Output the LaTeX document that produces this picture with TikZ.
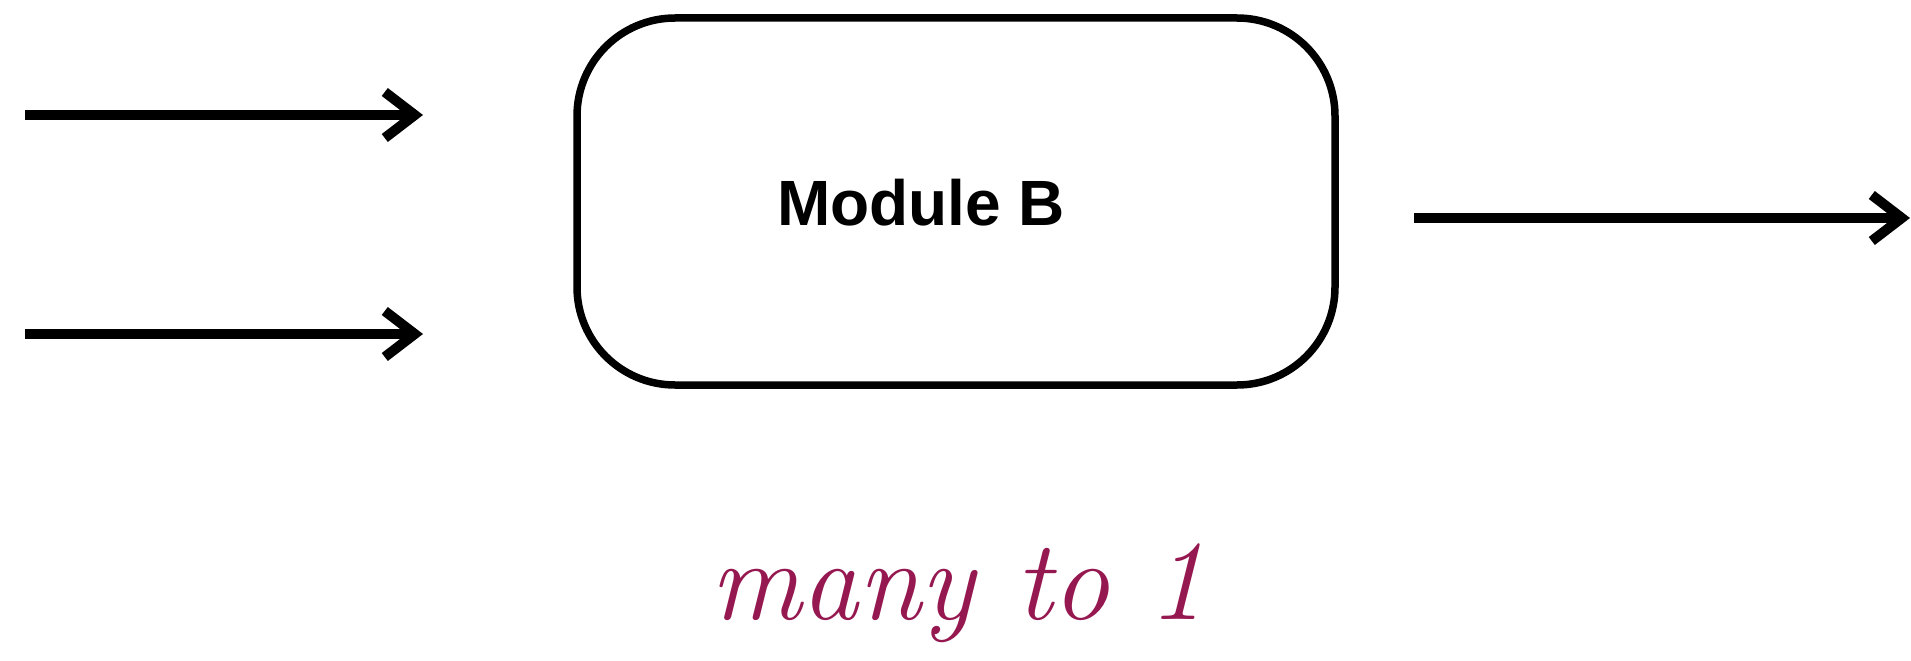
\documentclass[tikz,border=0pt]{standalone}
\usepackage{fontspec}
\setmainfont{Liberation Sans}
\newfontfamily\handfont{Latin Modern Roman}
\usetikzlibrary{arrows.meta}
\definecolor{notecol}{RGB}{150,24,80}
\begin{document}
\begin{tikzpicture}[x=1pt,y=-1pt,
  flow/.style={line width=10pt,
    -{Straight Barb[length=30pt,width=46pt,line width=10pt]}},
  module/.style={draw, line width=7.5pt, rounded corners=98pt,
    minimum width=758pt, minimum height=367pt, inner sep=0pt},
  label/.style={inner sep=0pt, font=\bfseries\fontsize{64}{70}\selectfont},
  note/.style={text=notecol, inner sep=0pt,
    font=\handfont\itshape\fontsize{114}{120}\selectfont}]
\useasboundingbox (0,0) rectangle (1911,661);

% the module
\node[module] (modb) at (956,201.5) {};
\node[label, anchor=base] (modbtext) at (921,225.5) {Module B};

% two incoming flows and one outgoing flow
\coordinate (inA) at (25,115);
\coordinate (inAend) at (423,115);
\coordinate (inB) at (25,334);
\coordinate (inBend) at (423,334);
\coordinate (out) at (1414,218);
\coordinate (outend) at (1910,218);
\draw[flow] (inA) -- (inAend);
\draw[flow] (inB) -- (inBend);
\draw[flow] (out) -- (outend);

% caption
\node[note, anchor=base] (cap) at (958,619) {many to 1};
\end{tikzpicture}
\end{document}
